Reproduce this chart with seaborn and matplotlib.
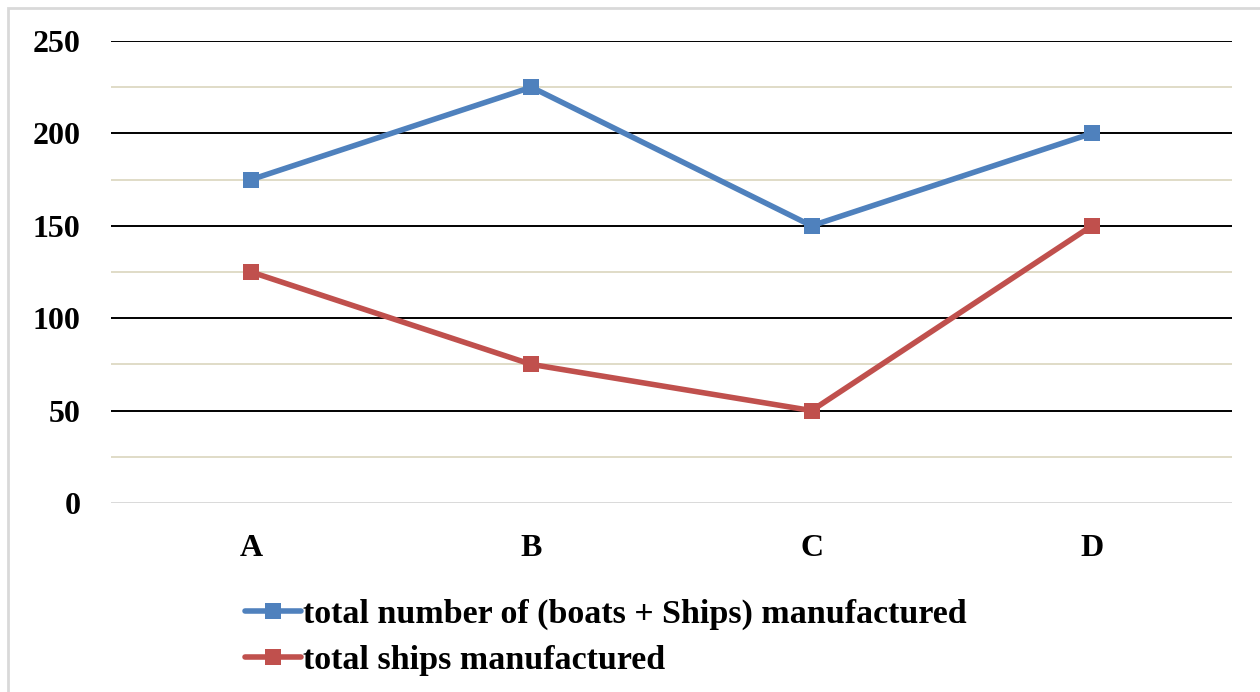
import pandas as pd
import seaborn as sns
import matplotlib.pyplot as plt
from matplotlib.patches import Rectangle

# DATA
categories = ["A", "B", "C", "D"]
total_boats_ships = [175, 225, 150, 200]
total_ships = [125, 75, 50, 150]
series_names = ["total number of (boats + Ships) manufactured", "total ships manufactured"]
y_ticks = [0, 50, 100, 150, 200, 250]

BLUE = "#4F81BD"
RED = "#C0504D"


def build_frame():
    rows = []
    for name, vals in zip(series_names, [total_boats_ships, total_ships]):
        for cat, v in zip(categories, vals):
            rows.append({"category": cat, "value": v, "series": name})
    return pd.DataFrame(rows)


def main():
    df = build_frame()
    sns.set_theme(style="white")
    plt.rcParams["font.family"] = ["Liberation Serif", "DejaVu Serif"]
    plt.rcParams["font.weight"] = "bold"
    plt.rcParams["text.color"] = "black"
    plt.rcParams["xtick.color"] = "black"
    plt.rcParams["ytick.color"] = "black"

    fig = plt.figure(figsize=(12.6, 6.92), dpi=100)
    ax = fig.add_axes([111 / 1260, 1 - 503 / 692, (1232 - 111) / 1260, (503 - 41) / 692])

    # gridlines: major black at 50s, minor beige at 25s
    for y in range(25, 250, 50):
        ax.axhline(y, color="#DDD9C3", lw=1.3, zorder=0)
    for y in y_ticks[1:]:
        ax.axhline(y, color="black", lw=1.4, zorder=0)
    ax.axhline(0, color="#D9D9D9", lw=1.4, zorder=0)

    sns.lineplot(data=df, x="category", y="value", hue="series",
                 palette=[BLUE, RED], marker="s", markersize=11,
                 markeredgewidth=0, linewidth=4, sort=False, ax=ax, legend=False)

    ax.set_xlim(-0.5, 3.5)
    ax.set_ylim(0, 250)
    ax.set_yticks(y_ticks)
    ax.set_yticklabels([str(t) for t in y_ticks], fontsize=23, fontweight="bold")
    ax.set_xticks(range(len(categories)))
    ax.set_xticklabels(categories, fontsize=23, fontweight="bold")
    ax.tick_params(axis="y", length=0, pad=22)
    ax.tick_params(axis="x", length=0, pad=22)
    ax.set_xlabel("")
    ax.set_ylabel("")
    for s in ax.spines.values():
        s.set_visible(False)

    handles = [plt.Line2D([], [], color=c, lw=4, marker="s", markersize=11, markeredgewidth=0)
               for c in [BLUE, RED]]
    fig.legend(handles, series_names, loc="upper left", bbox_to_anchor=(221 / 1260, 1 - 575 / 692),
               frameon=False, handlelength=1.65, handletextpad=0.05, borderpad=0.2,
               labelspacing=0.45, prop={"size": 24.5, "weight": "bold"})

    # outer frame of the screenshot
    fig.patches.append(Rectangle((8 / 1260, -0.1), 1.2, 1 - 8 / 692 + 0.1,
                                 transform=fig.transFigure, fill=False,
                                 edgecolor="#D9D9D9", lw=2))

    fig.savefig("out.png", dpi=100)
    plt.close(fig)


if __name__ == "__main__":
    main()
